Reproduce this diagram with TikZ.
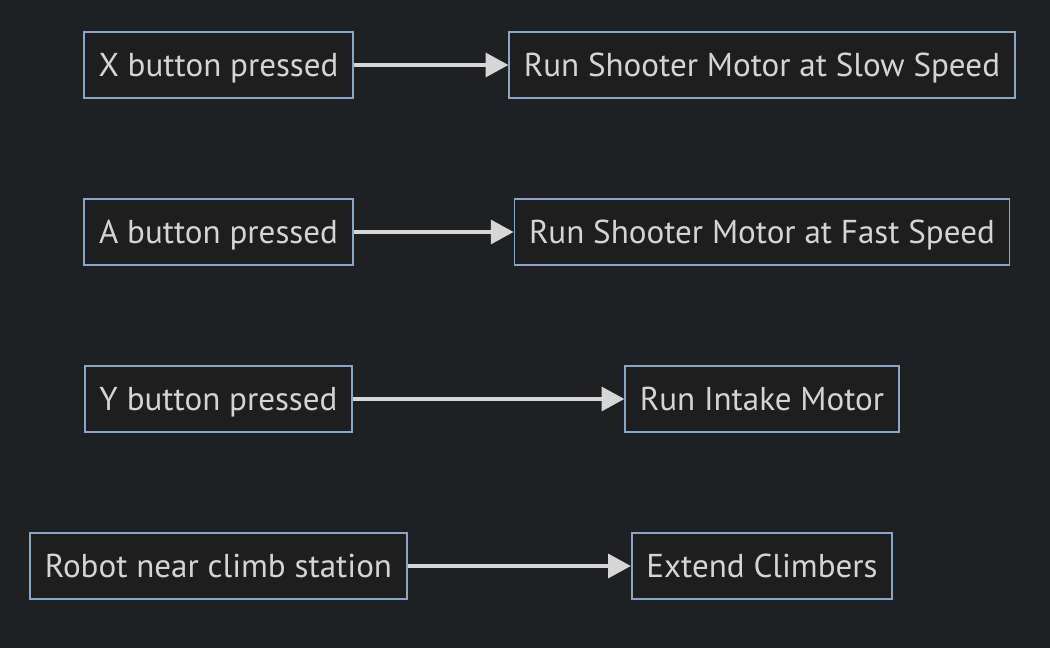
\documentclass[tikz,border=0pt]{standalone}
\usepackage{fontspec}
\setmainfont{PT Sans}
\usetikzlibrary{positioning,arrows.meta}
\definecolor{bg}{RGB}{31,32,34}
\definecolor{boxfill}{RGB}{30,30,31}
\definecolor{boxline}{RGB}{132,168,204}
\definecolor{txt}{RGB}{212,212,212}
\definecolor{wire}{RGB}{214,214,214}
\tikzset{
  box/.style={draw=boxline, fill=boxfill, line width=1.4pt, text=txt,
              minimum height=49.5pt, inner xsep=11pt, text height=17.4pt, text depth=0pt,
              font=\fontsize{24.8}{28}\selectfont},
  call/.style={-{Triangle[length=17pt, width=18pt]}, line width=2.3pt, draw=wire},
}
\begin{document}
\begin{tikzpicture}[x=0.75pt, y=-0.75pt]
  \fill[bg] (0,0) rectangle (1050,648);
  \useasboundingbox (0,0) rectangle (1050,648);

  %% triggers
  \node[box] (xbtn) at (218.5,65) {X button pressed};
  \node[box] (abtn) at (218.5,232) {A button pressed};
  \node[box] (ybtn) at (218.5,399) {Y button pressed};
  \node[box] (near) at (218.5,566) {Robot near climb station};

  %% actions
  \node[box] (slow) at (762,65) {Run Shooter Motor at Slow Speed};
  \node[box] (fast) at (762,232) {Run Shooter Motor at Fast Speed};
  \node[box] (intake) at (762,399) {Run Intake Motor};
  \node[box] (climb) at (762,566) {Extend Climbers};

  \draw[call] (xbtn) -- (slow);
  \draw[call] (abtn) -- (fast);
  \draw[call] (ybtn) -- (intake);
  \draw[call] (near) -- (climb);
\end{tikzpicture}
\end{document}
